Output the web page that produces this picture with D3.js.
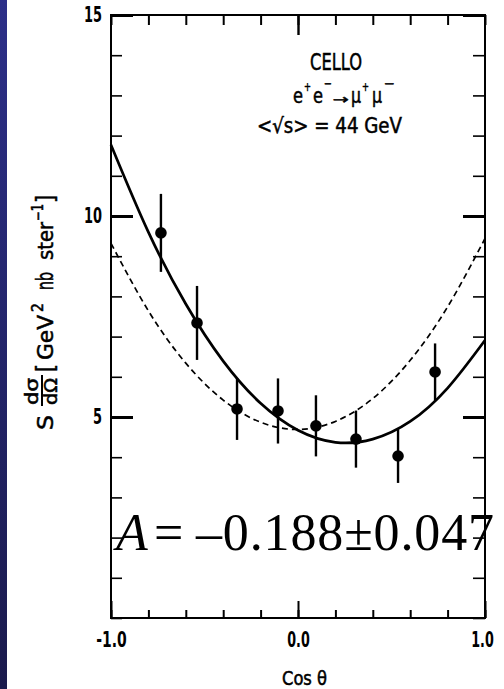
<!DOCTYPE html>
<html>
<head>
<meta charset="utf-8">
<script src="https://cdn.jsdelivr.net/npm/d3@7"></script>
<style>
  html, body { margin: 0; padding: 0; background: #fff; }
  svg { display: block; }
</style>
</head>
<body>
<svg id="chart" width="504" height="689"></svg>
<script>
// Differential cross section for e+e- -> mu+mu- at <sqrt s> = 44 GeV (CELLO)
const cosTheta   = [-0.733, -0.540, -0.326, -0.107, 0.096, 0.310, 0.535, 0.733];
const crossSec   = [9.58, 7.34, 5.20, 5.15, 4.78, 4.45, 4.03, 6.12];
const crossErr   = [0.97, 0.92, 0.77, 0.81, 0.76, 0.71, 0.67, 0.71];

// Fitted curve (with forward-backward asymmetry) and symmetric QED expectation
const curveCos   = [-1.0, -0.8, -0.6, -0.4, -0.2, 0.0, 0.2, 0.4, 0.6, 0.8, 1.0];
const fitAsym    = [11.77, 9.60, 7.81, 6.39, 5.34, 4.67, 4.37, 4.45, 4.89, 5.72, 6.91];
const fitQED     = [9.32, 7.64, 6.34, 5.42, 4.87, 4.69, 4.89, 5.46, 6.41, 7.74, 9.44];

// Axis ticks
const yMajorTicks = [5, 10, 15];
const yMinorTicks = d3.range(0, 16, 1);
const xMajorTicks = [-1.0, 0.0, 1.0];
const xMinorTicks = [-1.0, -0.8, -0.6, -0.4, -0.2, 0.0, 0.2, 0.4, 0.6, 0.8, 1.0];
const xTickLabels = ["-1.0", "0.0", "1.0"];

const plotFont = "'DejaVu Sans Condensed', 'DejaVu Sans', sans-serif";
const svg = d3.select("#chart");

// narrow plotter-style lettering: squeeze a glyph run to a given width
const charWidth = { ".": 4.5, "-": 8 };
function fitWidth(s) { return [...s].reduce((a, c) => a + (charWidth[c] || 9), 0); }

// dark side strip
const defs = svg.append("defs");
const grad = defs.append("linearGradient").attr("id", "strip")
  .attr("x1", 0).attr("y1", 0).attr("x2", 0).attr("y2", 1);
grad.append("stop").attr("offset", 0).attr("stop-color", "#2c2f88");
grad.append("stop").attr("offset", 1).attr("stop-color", "#1a1a4c");
svg.append("rect").attr("x", 0).attr("y", 0).attr("width", 7).attr("height", 689)
  .attr("fill", "url(#strip)");

const pLeft = 111, pRight = 485, pTop = 15, pBottom = 618;
const x = d3.scaleLinear().domain([-1, 1]).range([pLeft, pRight]);
const y = d3.scaleLinear().domain([0, 15]).range([pBottom, pTop]);

function styleAxis(g, width) {
  g.select(".domain").remove();
  g.selectAll("line").attr("stroke", "#000").attr("stroke-width", width);
  g.selectAll("text").attr("font-family", plotFont).attr("font-weight", "bold")
    .attr("font-size", 21).attr("fill", "#000")
    .attr("lengthAdjust", "spacingAndGlyphs")
    .attr("textLength", function () { return fitWidth(this.textContent); });
}

// left axis
svg.append("g").attr("transform", `translate(${pLeft},0)`)
  .call(d3.axisLeft(y).tickValues(yMinorTicks).tickSize(-11).tickFormat(""))
  .call(g => styleAxis(g, 1.6));
svg.append("g").attr("transform", `translate(${pLeft},0)`)
  .call(d3.axisLeft(y).tickValues(yMajorTicks).tickSize(-22).tickPadding(9).tickFormat(d3.format("d")))
  .call(g => styleAxis(g, 3));
// right axis
svg.append("g").attr("transform", `translate(${pRight},0)`)
  .call(d3.axisRight(y).tickValues(yMinorTicks).tickSize(-12).tickFormat(""))
  .call(g => styleAxis(g, 1.6));
svg.append("g").attr("transform", `translate(${pRight},0)`)
  .call(d3.axisRight(y).tickValues(yMajorTicks).tickSize(-22).tickFormat(""))
  .call(g => styleAxis(g, 3));
// bottom axis
svg.append("g").attr("transform", `translate(0,${pBottom})`)
  .call(d3.axisBottom(x).tickValues(xMinorTicks).tickSize(-8).tickFormat(""))
  .call(g => styleAxis(g, 2));
svg.append("g").attr("transform", `translate(0,${pBottom})`)
  .call(d3.axisBottom(x).tickValues(xMajorTicks).tickSize(-17).tickPadding(14)
    .tickFormat((d, i) => xTickLabels[i]))
  .call(g => styleAxis(g, 2))
  .call(g => g.selectAll(".tick text").attr("dx", (d, i) => i === 2 ? -3 : 0));
// top axis
svg.append("g").attr("transform", `translate(0,${pTop})`)
  .call(d3.axisTop(x).tickValues(xMinorTicks).tickSize(-10).tickFormat(""))
  .call(g => styleAxis(g, 2));
svg.append("g").attr("transform", `translate(0,${pTop})`)
  .call(d3.axisTop(x).tickValues([0]).tickSize(-20).tickFormat(""))
  .call(g => styleAxis(g, 2.4));

// frame
svg.append("rect").attr("x", pLeft).attr("y", pTop)
  .attr("width", pRight - pLeft).attr("height", pBottom - pTop)
  .attr("fill", "none").attr("stroke", "#000").attr("stroke-width", 2);

// curves
const line = d3.line().x(d => x(d[0])).y(d => y(d[1])).curve(d3.curveNatural);
svg.append("path").datum(d3.zip(curveCos, fitQED)).attr("d", line)
  .attr("fill", "none").attr("stroke", "#000").attr("stroke-width", 1.7)
  .attr("stroke-dasharray", "6,4");
svg.append("path").datum(d3.zip(curveCos, fitAsym)).attr("d", line)
  .attr("fill", "none").attr("stroke", "#000").attr("stroke-width", 2.7);

// data points with error bars
const pts = cosTheta.map((c, i) => ({ c, v: crossSec[i], e: crossErr[i] }));
svg.append("g").selectAll("line").data(pts).join("line")
  .attr("x1", d => x(d.c)).attr("x2", d => x(d.c))
  .attr("y1", d => y(d.v + d.e)).attr("y2", d => y(d.v - d.e))
  .attr("stroke", "#000").attr("stroke-width", 2.4);
svg.append("g").selectAll("circle").data(pts).join("circle")
  .attr("cx", d => x(d.c)).attr("cy", d => y(d.v)).attr("r", 5.8).attr("fill", "#000");

// plotter lettering helper
function letter(parent, str, px, py, size, width, opts = {}) {
  const t = parent.append("text").attr("x", px).attr("y", py)
    .attr("font-size", size).attr("font-family", plotFont).attr("fill", "#000")
    .attr("stroke", "#000").attr("stroke-width", opts.stroke != null ? opts.stroke : 0.5)
    .text(str);
  if (width) t.attr("textLength", width).attr("lengthAdjust", "spacingAndGlyphs");
  return t;
}

// annotation block
const ann = svg.append("g");
letter(ann, "CELLO", 310, 70, 23, 52);
letter(ann, "e", 293, 103, 21, 10);
letter(ann, "+", 304, 91, 13, 7);
letter(ann, "e", 313, 103, 21, 10);
letter(ann, "\u2212", 324, 88, 13, 8);
letter(ann, "\u2192", 333, 104, 13, 16);
letter(ann, "\u03bc", 351, 103, 21, 10);
letter(ann, "+", 362, 91, 13, 7);
letter(ann, "\u03bc", 372, 103, 21, 10);
letter(ann, "\u2212", 384, 88, 13, 11);
letter(ann, "<\u221as> = 44 GeV", 257, 133, 21, 145);

// y-axis title
const yt = svg.append("g").attr("transform", "translate(53,430) rotate(-90)");
letter(yt, "S", 0, 0, 22, 15);
letter(yt, "d\u03c3", 25, -15, 18, 27);
yt.append("line").attr("x1", 24).attr("x2", 55).attr("y1", -11).attr("y2", -11)
  .attr("stroke", "#000").attr("stroke-width", 2);
letter(yt, "d\u03a9", 25, 4, 18, 27);
letter(yt, "[", 58, 1, 24, 8);
letter(yt, "GeV", 70, 0, 22, 45);
letter(yt, "2", 118, -10, 15, 9);
letter(yt, "nb", 140, 0, 23, 18);
letter(yt, "ster", 170, 0, 22, 38);
letter(yt, "\u22121", 209, -10, 15, 17);
letter(yt, "]", 227, 1, 24, 8);

// x-axis title
letter(svg, "Cos \u03b8", 282, 685, 20, 45);

// asymmetry result
const serif = "'Liberation Serif', 'Times New Roman', serif";
const asym = svg.append("g").attr("font-family", serif).attr("font-size", 52).attr("fill", "#000");
asym.append("text").attr("x", 116).attr("y", 550).attr("font-style", "italic").text("A");
asym.append("text").attr("x", 154).attr("y", 550).text("=");
asym.append("text").attr("x", 196).attr("y", 550)
  .attr("textLength", 298).attr("lengthAdjust", "spacing")
  .text("\u20130.188\u00b10.047");
</script>
</body>
</html>
